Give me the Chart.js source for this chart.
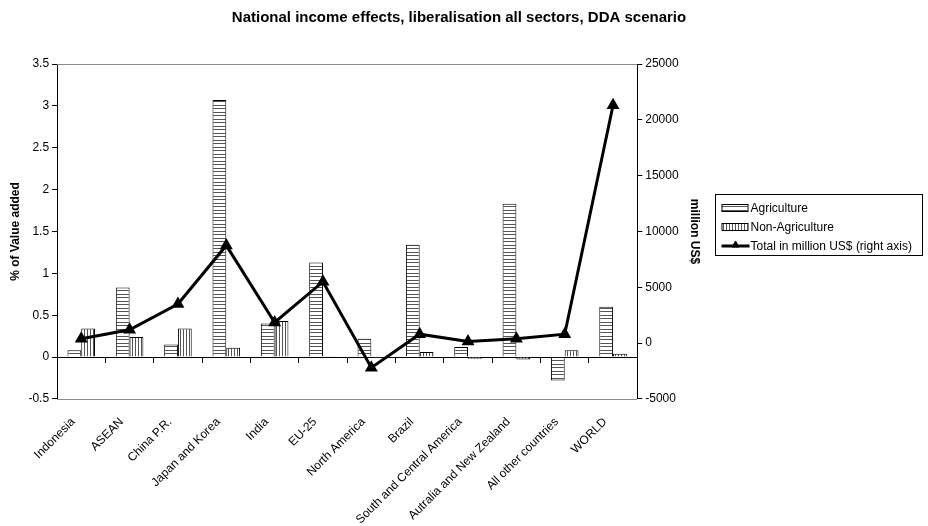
<!DOCTYPE html>
<html>
<head>
<meta charset="utf-8">
<script src="https://cdn.jsdelivr.net/npm/chart.js@4.4.1/dist/chart.umd.min.js"></script>
<style>
  html, body { margin: 0; padding: 0; background: #fff; }
  #wrap { width: 928px; height: 526px; }
</style>
</head>
<body>
<div id="wrap"><canvas id="chart"></canvas></div>
<script>
// ─── Data ──────────────────────────────────────────────
const categories = [
    'Indonesia', 'ASEAN', 'China P.R.', 'Japan and Korea', 'India', 'EU-25',
    'North America', 'Brazil', 'South and Central America',
    'Autralia and New Zealand', 'All other countries', 'WORLD'
];
// % of value added
const agriculture    = [0.08, 0.83, 0.15, 3.07, 0.40, 1.13, 0.22, 1.34, 0.12, 1.83, -0.28, 0.60];
const nonAgriculture = [0.34, 0.24, 0.34, 0.11, 0.43, 0.01, -0.01, 0.06, -0.02, -0.03, 0.08, 0.04];
// million US$ (right axis)
const totalMillionUSD = [400, 1200, 3500, 8750, 1850, 5500, -2200, 800, 150, 400, 800, 21300];

const FONT = "'Liberation Sans', Arial, sans-serif";

// striped fills for the two bar series
function hatch(vertical) {
    const c = document.createElement('canvas');
    c.width = vertical ? 3 : 1;
    c.height = vertical ? 1 : 7;
    const g = c.getContext('2d');
    g.fillStyle = '#fff';
    g.fillRect(0, 0, c.width, c.height);
    g.fillStyle = '#555';
    if (vertical) {
        g.fillRect(0, 0, 1, 1);
    } else {
        g.fillRect(0, 0, 1, 1);
        g.fillRect(0, 3, 1, 1);
    }
    return g.createPattern(c, 'repeat');
}

// title spans the whole canvas, not just the padded layout box
const wideTitle = {
    id: 'wideTitle',
    afterLayout(chart) {
        const t = chart.titleBlock;
        if (!t) return;
        t.left = 0;
        t.right = chart.width - 10;
        t.width = t.right - t.left;
    }
};

// grey frame along top and bottom of the plot
const plotFrame = {
    id: 'plotFrame',
    beforeDatasetsDraw(chart) {
        const { ctx, chartArea: a } = chart;
        ctx.save();
        ctx.strokeStyle = '#8a8a8a';
        ctx.lineWidth = 1;
        ctx.beginPath();
        ctx.moveTo(a.left, Math.round(a.top) + 0.5);
        ctx.lineTo(a.right, Math.round(a.top) + 0.5);
        ctx.moveTo(a.left, Math.round(a.bottom) + 0.5);
        ctx.lineTo(a.right, Math.round(a.bottom) + 0.5);
        ctx.stroke();
        ctx.restore();
    }
};

// boxed legend to the right of the secondary axis
const legendBox = {
    id: 'legendBox',
    afterDraw(chart) {
        const { ctx, chartArea } = chart;
        const x = Math.round(chartArea.right) + 78.5;
        const y = Math.round(chartArea.top) + 130.5;
        ctx.save();
        ctx.strokeStyle = '#000';
        ctx.lineWidth = 1;
        ctx.strokeRect(x, y, 207, 61);
        ctx.font = '12px ' + FONT;
        ctx.textBaseline = 'middle';
        chart.data.datasets.forEach((ds, i) => {
            const rowY = Math.round(y + 13 + i * 19);
            const sx = x + 6;
            if (ds.type === 'line') {
                ctx.strokeStyle = ds.borderColor;
                ctx.lineWidth = 3;
                ctx.beginPath();
                ctx.moveTo(sx, rowY);
                ctx.lineTo(sx + 28, rowY);
                ctx.stroke();
                ctx.fillStyle = ds.pointBackgroundColor;
                ctx.strokeStyle = ds.pointBorderColor;
                ctx.lineWidth = 1;
                Chart.helpers.drawPoint(ctx, { pointStyle: 'triangle', radius: 4, borderWidth: 1, rotation: 0 }, sx + 14, rowY - 1);
            } else {
                ctx.fillStyle = ds.backgroundColor;
                ctx.fillRect(sx, rowY - 3, 26, 7);
                ctx.strokeStyle = '#000';
                ctx.lineWidth = 1;
                ctx.strokeRect(sx + 0.5, rowY - 3.5, 26, 7);
            }
            ctx.fillStyle = '#000';
            ctx.fillText(ds.label, sx + 29, rowY + 1);
        });
        ctx.restore();
    }
};

const tickFont = { size: 12, family: FONT };
const titleFont = { size: 12, family: FONT, weight: 'bold' };

new Chart(document.getElementById('chart').getContext('2d'), {
    type: 'bar',
    data: {
        labels: categories,
        datasets: [
            {
                label: 'Agriculture',
                data: agriculture,
                yAxisID: 'y',
                backgroundColor: hatch(false),
                borderColor: '#000',
                borderWidth: 1,
                categoryPercentage: 0.57,
                barPercentage: 1,
                order: 1
            },
            {
                label: 'Non-Agriculture',
                data: nonAgriculture,
                yAxisID: 'y',
                backgroundColor: hatch(true),
                borderColor: '#000',
                borderWidth: 1,
                categoryPercentage: 0.57,
                barPercentage: 1,
                order: 1
            },
            {
                type: 'line',
                label: 'Total in million US$ (right axis)',
                data: totalMillionUSD,
                yAxisID: 'y1',
                borderColor: '#000',
                borderWidth: 3,
                pointStyle: 'triangle',
                pointRadius: 4.5,
                pointBackgroundColor: '#000',
                pointBorderColor: '#000',
                tension: 0,
                order: 0
            }
        ]
    },
    options: {
        responsive: true,
        maintainAspectRatio: false,
        animation: false,
        layout: { padding: { left: 5, right: 220, top: 0, bottom: 0 } },
        plugins: {
            legend: { display: false },
            tooltip: { enabled: false },
            title: {
                display: true,
                text: 'National income effects, liberalisation all sectors, DDA scenario',
                color: '#000',
                font: { size: 15, family: FONT, weight: 'bold' },
                padding: { top: 9, bottom: 37 }
            }
        },
        scales: {
            x: {
                grid: { display: false },
                border: { display: false },
                ticks: {
                    color: '#000', font: tickFont,
                    autoSkip: false, minRotation: 45, maxRotation: 45,
                    padding: 8, labelOffset: -8
                },
                // long rotated labels may run off the bottom edge
                afterFit: s => { s.height -= 9; }
            },
            // axis line through zero with tick marks between categories
            x2: {
                type: 'category',
                labels: categories,
                offset: true,
                position: { y: 0 },
                grid: { offset: true, drawOnChartArea: false, drawTicks: true, tickLength: 5, color: '#000' },
                border: { display: true, color: '#000' },
                ticks: { display: false }
            },
            y: {
                position: 'left',
                min: -0.5, max: 3.5,
                grid: { drawOnChartArea: false, drawTicks: true, tickLength: 5, color: '#000' },
                border: { display: true, color: '#000' },
                ticks: { stepSize: 0.5, color: '#000', font: tickFont, padding: 3, callback: v => String(v) },
                title: { display: true, text: '% of Value added', color: '#000', font: titleFont, padding: 3 }
            },
            y1: {
                position: 'right',
                min: -5000, max: 25000,
                grid: { drawOnChartArea: false, drawTicks: true, tickLength: 5, color: '#000' },
                border: { display: true, color: '#000' },
                ticks: { stepSize: 5000, color: '#000', font: tickFont, padding: 3, callback: v => String(v) },
                title: { display: true, text: 'million US$', color: '#000', font: titleFont, padding: 6 }
            }
        }
    },
    plugins: [wideTitle, plotFrame, legendBox]
});
</script>
</body>
</html>
